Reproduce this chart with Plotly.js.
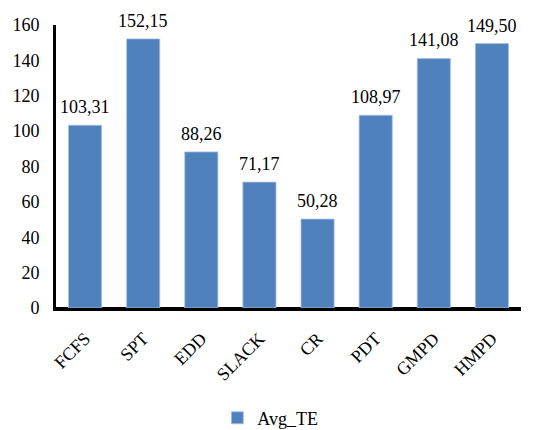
<!DOCTYPE html>
<html><head><meta charset="utf-8">
<script src="https://cdn.plot.ly/plotly-3.0.1.min.js"></script>
<style>body{margin:0;background:#fff}#c{width:545px;height:430px}#d{position:absolute;right:0;bottom:0;font-size:9px;color:#fff;margin:0}</style>
</head><body><div id="c"></div><pre id="d"></pre>
<script>
const categories = ["FCFS","SPT","EDD","SLACK","CR","PDT","GMPD","HMPD"];
const avgTE = [103.31,152.15,88.26,71.17,50.28,108.97,141.08,149.50];
const seriesName = "Avg_TE";
const yTicks = [0,20,40,60,80,100,120,140,160];

const fam = "Liberation Serif, Times New Roman, serif";
const font = {family:fam, size:18, color:"#000"};
const labels = categories.map((c,i)=>({
  x:c, y:avgTE[i], xref:"x", yref:"y",
  text:avgTE[i].toFixed(2).replace(".",","),
  showarrow:false, yanchor:"bottom", yshift:6,
  font:{family:fam,size:18,color:"#000"}
}));
Plotly.newPlot("c",[{
  type:"bar", x:categories, y:avgTE, name:seriesName,
  marker:{color:"#4f81bd", line:{color:"#a9c2e0", width:0.8}}
}],{
  width:545,height:430,
  margin:{l:56,r:24,t:25,b:122,autoexpand:false},
  font:font,
  bargap:0.43,
  showlegend:true,
  annotations:labels,
  legend:{orientation:"h",x:0.461,xanchor:"center",y:-0.389,yanchor:"middle",itemwidth:30,font:{family:fam,size:18}},
  xaxis:{automargin:false,showline:true,linecolor:"#000",linewidth:3,ticks:"",tickangle:-45,ticklabelstandoff:10,tickfont:font,showgrid:false},
  yaxis:{automargin:false,range:[0,160],tickvals:yTicks,showline:true,linecolor:"#000",linewidth:3,ticks:"",ticklabelstandoff:10,showgrid:false,zeroline:true,zerolinecolor:"#000",zerolinewidth:3,tickfont:font},
  plot_bgcolor:"#fff",paper_bgcolor:"#fff"
},{displayModeBar:false}).then(()=>{
  const gd=document.getElementById('c');
  document.getElementById('d').textContent='axis lines: '+gd._fullLayout.xaxis.showline+' '+gd._fullLayout.yaxis.showline;
});
</script></body></html>
